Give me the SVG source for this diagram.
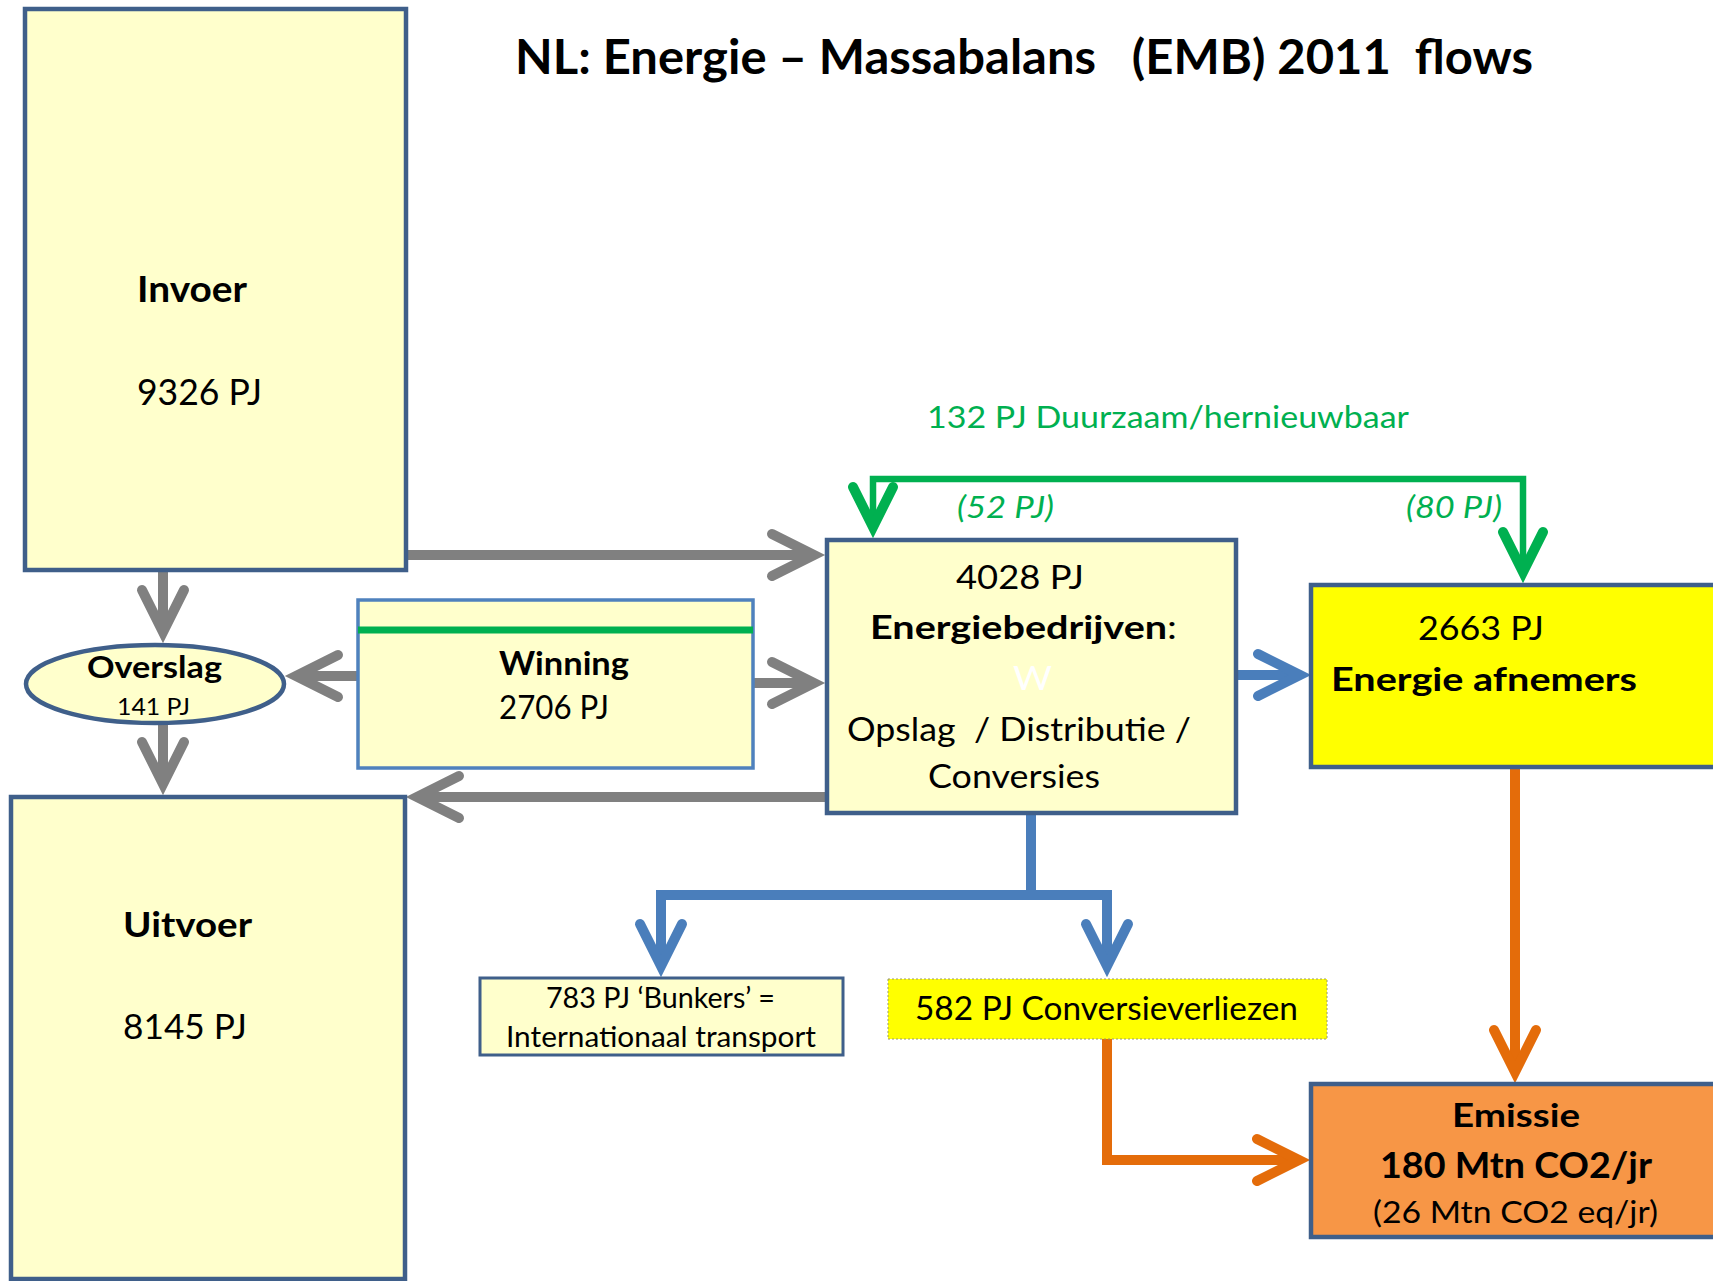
<svg xmlns="http://www.w3.org/2000/svg" width="1713" height="1281" viewBox="0 0 1713 1281">
<style>
text{font-family:Lato,"Open Sans","Liberation Sans",sans-serif;fill:#000;white-space:pre}
.b{font-weight:bold}
.box{fill:#FFFFCC;stroke:#3F5F8A;stroke-width:4.5}
.c{fill:none;stroke-linecap:butt;stroke-linejoin:miter}
.gray{stroke:#808080;stroke-width:10}
.blue{stroke:#4A7EBB;stroke-width:10}
.green{stroke:#00B050;stroke-width:6.5}
.orange{stroke:#E46C0A;stroke-width:10}
.gt{fill:#00B050}
</style>
<defs>
<marker id="ag" markerUnits="userSpaceOnUse" orient="auto" refX="0" refY="0" markerWidth="10" markerHeight="10" overflow="visible"><path d="M-42,-21 L0,0 L-42,21" fill="none" stroke="#808080" stroke-width="10" stroke-linecap="round" stroke-linejoin="miter"/></marker>
<marker id="ab" markerUnits="userSpaceOnUse" orient="auto" refX="0" refY="0" markerWidth="10" markerHeight="10" overflow="visible"><path d="M-42,-21 L0,0 L-42,21" fill="none" stroke="#4A7EBB" stroke-width="10" stroke-linecap="round" stroke-linejoin="miter"/></marker>
<marker id="agr" markerUnits="userSpaceOnUse" orient="auto" refX="0" refY="0" markerWidth="10" markerHeight="10" overflow="visible"><path d="M-40,-20 L0,0 L-40,20" fill="none" stroke="#00B050" stroke-width="10" stroke-linecap="round" stroke-linejoin="miter"/></marker>
<marker id="ao" markerUnits="userSpaceOnUse" orient="auto" refX="0" refY="0" markerWidth="10" markerHeight="10" overflow="visible"><path d="M-42,-21 L0,0 L-42,21" fill="none" stroke="#E46C0A" stroke-width="10" stroke-linecap="round" stroke-linejoin="miter"/></marker>
</defs>
<rect width="1713" height="1281" fill="#fff"/>
<text id="title" class="b" x="515" y="74" font-size="47" textLength="1018" lengthAdjust="spacingAndGlyphs">NL: Energie – Massabalans   (EMB) 2011  flows</text>

<g id="connectors">
<path class="c gray" d="M404,555 H814" marker-end="url(#ag)"/>
<path class="c gray" d="M163,570 V632" marker-end="url(#ag)"/>
<path class="c gray" d="M163,723 V784" marker-end="url(#ag)"/>
<path class="c gray" d="M358,676 H296" marker-end="url(#ag)"/>
<path class="c gray" d="M753,683 H814" marker-end="url(#ag)"/>
<path class="c gray" d="M827,797 H417" marker-end="url(#ag)"/>
<path class="c green" d="M1200,479 H873 V527" marker-end="url(#agr)"/>
<path class="c green" d="M1200,479 H1523 V572" marker-end="url(#agr)"/>
<path class="c blue" d="M1236,675 H1300" marker-end="url(#ab)"/>
<path class="c blue" d="M1031,813 V895 H661 V966" marker-end="url(#ab)"/>
<path class="c blue" d="M1031,895 H1107 V966" marker-end="url(#ab)"/>
<path class="c orange" d="M1515,767 V1072" marker-end="url(#ao)"/>
<path class="c orange" d="M1107,1039 V1160 H1299" marker-end="url(#ao)"/>
</g>

<g id="invoer">
<rect class="box" x="25" y="9" width="381" height="561"/>
<text class="b" x="137" y="302" font-size="37" textLength="110" lengthAdjust="spacingAndGlyphs">Invoer</text>
<text x="137" y="405" font-size="37" textLength="125" lengthAdjust="spacingAndGlyphs">9326 PJ</text>
</g>

<g id="overslag">
<ellipse cx="155" cy="684" rx="129" ry="39" fill="#FFFFCC" stroke="#3F5F8A" stroke-width="4.5"/>
<text class="b" x="87" y="678" font-size="30" textLength="135" lengthAdjust="spacingAndGlyphs">Overslag</text>
<text x="117" y="715" font-size="23" textLength="73" lengthAdjust="spacingAndGlyphs">141 PJ</text>
</g>

<g id="winning">
<rect x="358" y="600" width="395" height="168" fill="#FFFFCC" stroke="#4F81BD" stroke-width="3.5"/>
<line x1="358" y1="630" x2="753" y2="630" stroke="#00B050" stroke-width="7"/>
<text class="b" x="499" y="675" font-size="32" textLength="130" lengthAdjust="spacingAndGlyphs">Winning</text>
<text x="499" y="719" font-size="32" textLength="110" lengthAdjust="spacingAndGlyphs">2706 PJ</text>
</g>

<g id="energiebedrijven">
<rect class="box" x="827" y="540" width="409" height="273"/>
<text x="956" y="589" font-size="33" textLength="128" lengthAdjust="spacingAndGlyphs">4028 PJ</text>
<text class="b" x="870" y="639" font-size="33" textLength="307" lengthAdjust="spacingAndGlyphs">Energiebedrijven<tspan font-weight="normal">:</tspan></text>
<text x="1013" y="690" font-size="33" style="fill:#fff" textLength="39" lengthAdjust="spacingAndGlyphs">W</text>
<text x="847" y="741" font-size="33" textLength="344" lengthAdjust="spacingAndGlyphs">Opslag  / Distributie /</text>
<text x="928" y="788" font-size="33" textLength="172" lengthAdjust="spacingAndGlyphs">Conversies</text>
</g>

<g id="afnemers">
<rect x="1311" y="585" width="420" height="182" fill="#FFFF00" stroke="#3F5F8A" stroke-width="4.5"/>
<text x="1418" y="640" font-size="33" textLength="126" lengthAdjust="spacingAndGlyphs">2663 PJ</text>
<text class="b" x="1331" y="691" font-size="33" textLength="306" lengthAdjust="spacingAndGlyphs">Energie afnemers</text>
</g>

<g id="uitvoer">
<rect class="box" x="11" y="797" width="394" height="482"/>
<text class="b" x="123" y="937" font-size="35" textLength="129" lengthAdjust="spacingAndGlyphs">Uitvoer</text>
<text x="123" y="1039" font-size="35" textLength="124" lengthAdjust="spacingAndGlyphs">8145 PJ</text>
</g>

<g id="bunkers">
<rect x="480" y="978" width="363" height="77" fill="#FFFFCC" stroke="#3F5F8A" stroke-width="3"/>
<text x="546" y="1008" font-size="28" textLength="229" lengthAdjust="spacingAndGlyphs">783 PJ ‘Bunkers’ =</text>
<text x="506" y="1047" font-size="28" textLength="310" lengthAdjust="spacingAndGlyphs">Internationaal transport</text>
</g>

<g id="conversieverliezen">
<rect x="888" y="979" width="439" height="60" fill="#FFFF00" stroke="#9A9A6A" stroke-width="1" stroke-dasharray="2,2"/>
<text x="915" y="1020" font-size="32" textLength="383" lengthAdjust="spacingAndGlyphs">582 PJ Conversieverliezen</text>
</g>

<g id="emissie">
<rect x="1311" y="1084" width="420" height="153" fill="#F79646" stroke="#3F5F8A" stroke-width="4.5"/>
<text class="b" x="1452" y="1127" font-size="33" textLength="128" lengthAdjust="spacingAndGlyphs">Emissie</text>
<text class="b" x="1380" y="1178" font-size="37" textLength="272" lengthAdjust="spacingAndGlyphs">180 Mtn CO2/jr</text>
<text x="1373" y="1223" font-size="31" textLength="285" lengthAdjust="spacingAndGlyphs">(26 Mtn CO2 eq/jr)</text>
</g>

<g id="duurzaam">
<text class="gt" x="927" y="428" font-size="30" textLength="482" lengthAdjust="spacingAndGlyphs">132 PJ Duurzaam/hernieuwbaar</text>
<text class="gt" x="957" y="518" font-size="30" font-style="italic" textLength="97" lengthAdjust="spacingAndGlyphs">(52 PJ)</text>
<text class="gt" x="1406" y="518" font-size="30" font-style="italic" textLength="96" lengthAdjust="spacingAndGlyphs">(80 PJ)</text>
</g>
</svg>
